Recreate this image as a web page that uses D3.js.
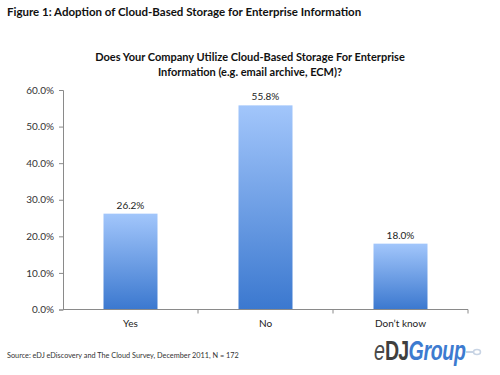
<!DOCTYPE html>
<html>
<head>
<meta charset="utf-8">
<script src="https://cdn.jsdelivr.net/npm/d3@7"></script>
<style>
  body { margin: 0; background: #fff; }
  svg { display: block; font-family: Lato, "Open Sans", sans-serif; }
</style>
</head>
<body>
<div id="chart"></div>
<script>
// survey answers and their shares (percent)
const categories = ["Yes", "No", "Don\u2019t know"];
const values = [26.2, 55.8, 18.0];
const yTicks = [0, 10, 20, 30, 40, 50, 60];

const width = 500, height = 375;
const margin = {top: 90, right: 32, bottom: 65.5, left: 63};

const svg = d3.select("#chart").append("svg")
    .attr("width", width)
    .attr("height", height);

// gradient for the bars, light on top, darker at the bottom
const grad = svg.append("defs").append("linearGradient")
    .attr("id", "barGrad")
    .attr("x1", 0).attr("y1", 0).attr("x2", 0).attr("y2", 1);
grad.append("stop").attr("offset", "0%").attr("stop-color", "#a2c6fb");
grad.append("stop").attr("offset", "100%").attr("stop-color", "#3b78cf");

// figure title
svg.append("text")
    .attr("x", 7)
    .attr("y", 16)
    .style("font-size", "11.5px")
    .style("font-weight", "bold")
    .attr("fill", "#111")
    .text("Figure 1: Adoption of Cloud-Based Storage for Enterprise Information");

// chart title, two lines
const title = svg.append("text")
    .attr("x", 250)
    .attr("text-anchor", "middle")
    .style("font-size", "11px")
    .style("font-weight", "bold")
    .attr("fill", "#111");
title.append("tspan").attr("x", 250).attr("y", 61)
    .text("Does Your Company Utilize Cloud-Based Storage For Enterprise");
title.append("tspan").attr("x", 250).attr("y", 76)
    .text("Information (e.g. email archive, ECM)?");

// scales
const x = d3.scaleBand()
    .domain(categories)
    .range([margin.left, width - margin.right])
    .paddingInner(0.6)
    .paddingOuter(0.3);

const y = d3.scaleLinear()
    .domain([0, 60])
    .range([height - margin.bottom, margin.top]);

// Y axis
const yAxis = svg.append("g")
    .attr("transform", "translate(" + margin.left + ",0)")
    .call(d3.axisLeft(y).tickValues(yTicks).tickSize(4).tickPadding(5)
        .tickFormat(d => d.toFixed(1) + "%"));
yAxis.select(".domain").attr("stroke", "#8a8a8a");
yAxis.selectAll(".tick line").attr("stroke", "#8a8a8a");
yAxis.selectAll("text").style("font-size", "10px").attr("fill", "#333")
    .style("font-family", "Lato, 'Open Sans', sans-serif");

// bars
svg.selectAll("rect.bar")
    .data(values)
    .enter().append("rect")
    .attr("class", "bar")
    .attr("x", (d, i) => x(categories[i]))
    .attr("y", d => y(d))
    .attr("width", x.bandwidth())
    .attr("height", d => y(0) - y(d))
    .attr("fill", "url(#barGrad)");

// value labels
svg.selectAll("text.val")
    .data(values)
    .enter().append("text")
    .attr("class", "val")
    .attr("x", (d, i) => x(categories[i]) + x.bandwidth() / 2)
    .attr("y", d => y(d) - 5)
    .attr("text-anchor", "middle")
    .style("font-size", "10px")
    .attr("fill", "#222")
    .text(d => d.toFixed(1) + "%");

// X axis line with ticks between categories
const x0 = margin.left, x1 = width - margin.right;
const xAxis = svg.append("g");
xAxis.append("line")
    .attr("x1", x0).attr("x2", x1)
    .attr("y1", y(0)).attr("y2", y(0))
    .attr("stroke", "#8a8a8a");
xAxis.selectAll("line.sep")
    .data(categories)
    .enter().append("line")
    .attr("class", "sep")
    .attr("x1", (d, i) => x(d) - x.step() * 0.3 + x.step())
    .attr("x2", (d, i) => x(d) - x.step() * 0.3 + x.step())
    .attr("y1", y(0)).attr("y2", y(0) + 4)
    .attr("stroke", "#8a8a8a");
xAxis.selectAll("text")
    .data(categories)
    .enter().append("text")
    .attr("x", d => x(d) + x.bandwidth() / 2)
    .attr("y", y(0) + 17)
    .attr("text-anchor", "middle")
    .style("font-size", "10px")
    .attr("fill", "#222")
    .text(d => d);

// source note
svg.append("text")
    .attr("x", 7)
    .attr("y", 358)
    .style("font-size", "7.3px")
    .attr("fill", "#333")
    .text("Source: eDJ eDiscovery and The Cloud Survey, December 2011, N = 172");

// eDJGroup logo (squeezed horizontally)
const logo = svg.append("text")
    .attr("transform", "translate(374,360) scale(0.7,1)")
    .style("font-size", "28px")
    .style("font-family", "'Liberation Sans', Arial, sans-serif")
    .style("font-weight", "bold");
logo.append("tspan").attr("fill", "#4a4a4a").style("font-style", "italic")
    .style("font-weight", "normal").text("e");
logo.append("tspan").attr("fill", "#3f3f3f").style("letter-spacing", "-1px").text("DJ");
logo.append("tspan").attr("fill", "#3d7bd0").style("font-style", "italic")
    .style("letter-spacing", "-0.5px").text("Group");
svg.append("line")
    .attr("x1", 466).attr("x2", 474)
    .attr("y1", 352).attr("y2", 352)
    .attr("stroke", "#c8d4e4").attr("stroke-width", 2);
svg.append("ellipse")
    .attr("cx", 477).attr("cy", 352)
    .attr("rx", 3.5).attr("ry", 2.5)
    .attr("fill", "none")
    .attr("stroke", "#c8d4e4").attr("stroke-width", 1.5);
</script>
</body>
</html>
